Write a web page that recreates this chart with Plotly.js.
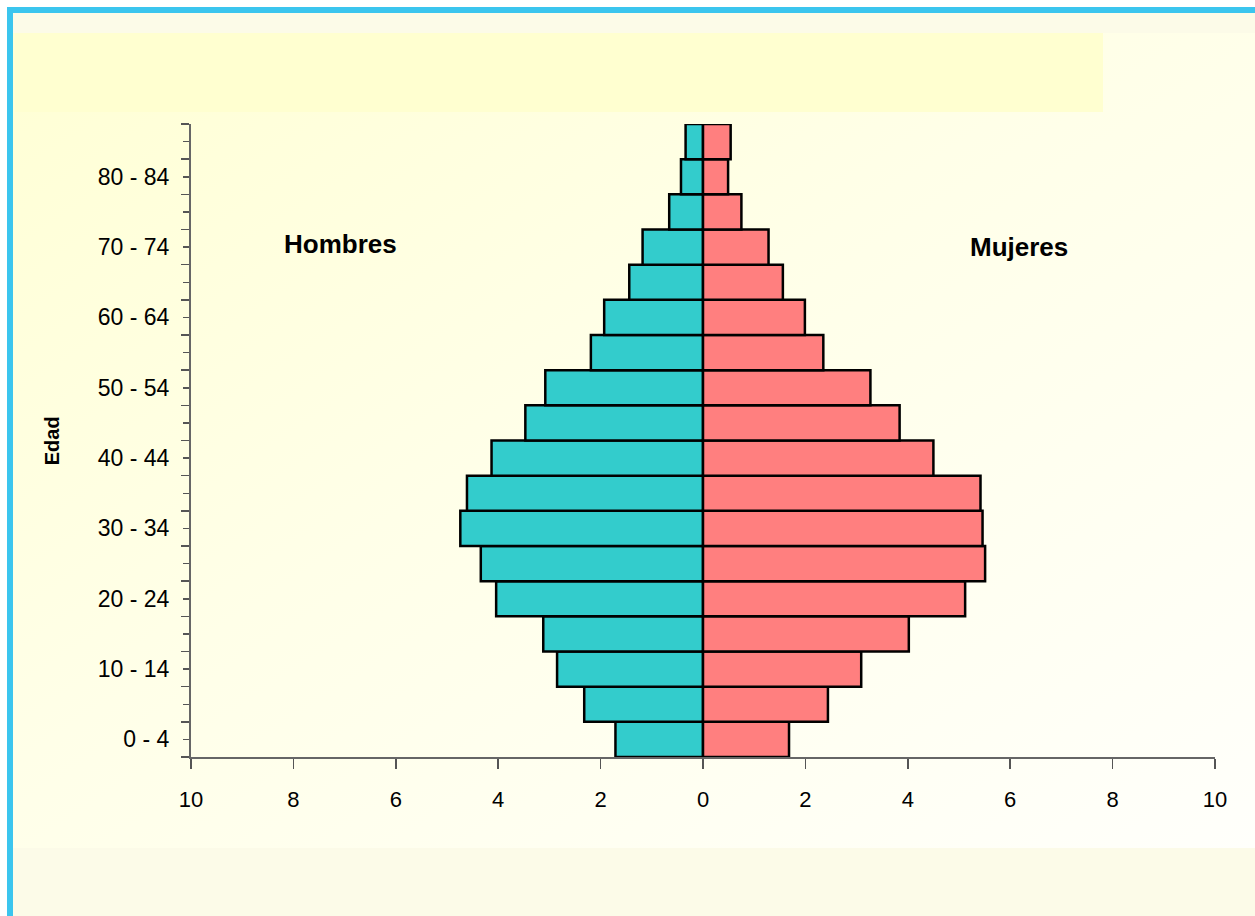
<!DOCTYPE html>
<html>
<head>
<meta charset="utf-8">
<script src="https://cdn.plot.ly/plotly-3.0.1.min.js"></script>
<style>
  html, body { margin: 0; padding: 0; background: #ffffff; }
  #wrap { position: relative; width: 1255px; height: 916px; overflow: hidden; }
  #frame { position: absolute; left: 7px; top: 7px; width: 1248px; height: 909px;
           border-top: 6px solid #3BC5EE; border-left: 6px solid #3BC5EE;
           box-sizing: border-box; background: #FCFBE8; }
  #grad { position: absolute; left: 13px; top: 33px; width: 1242px; height: 815px;
          background: linear-gradient(to bottom right, #FFFFD4 0%, #FFFFE8 45%, #FFFFFB 100%); }
  #band { position: absolute; left: 15px; top: 33px; width: 1088px; height: 79px; background: #FFFFD0; }
  #chart { position: absolute; left: 0; top: 0; width: 1255px; height: 916px; }
</style>
</head>
<body>
<div id="wrap">
  <div id="frame"></div>
  <div id="grad"></div>
  <div id="band"></div>
  <div id="chart"></div>
</div>
<script>
const categories = ["0 - 4","5 - 9","10 - 14","15 - 19","20 - 24","25 - 29","30 - 34","35 - 39",
                    "40 - 44","45 - 49","50 - 54","55 - 59","60 - 64","65 - 69","70 - 74","75 - 79",
                    "80 - 84","85+"];
const hombres = [1.71, 2.32, 2.85, 3.12, 4.04, 4.34, 4.74, 4.61, 4.13, 3.47, 3.08, 2.19, 1.93, 1.44, 1.18, 0.66, 0.43, 0.34];
const mujeres = [1.68, 2.44, 3.09, 4.02, 5.12, 5.51, 5.46, 5.42, 4.50, 3.84, 3.27, 2.35, 1.99, 1.56, 1.28, 0.75, 0.49, 0.54];
const xTicks = [-10, -8, -6, -4, -2, 0, 2, 4, 6, 8, 10];
const xTickText = ["10","8","6","4","2","0","2","4","6","8","10"];

const idx = categories.map((c, i) => i);
const yTickText = idx.map(i => (i % 2 === 0 ? categories[i] : ""));

const font = "Liberation Sans, Arial, sans-serif";

const traces = [
  { type: "bar", orientation: "h", y: idx, x: hombres.map(v => -v), name: "Hombres",
    width: 1, marker: { color: "#33CCCC", line: { color: "#000000", width: 2.5 } }, hoverinfo: "skip" },
  { type: "bar", orientation: "h", y: idx, x: mujeres, name: "Mujeres",
    width: 1, marker: { color: "#FF7F7F", line: { color: "#000000", width: 2.5 } }, hoverinfo: "skip" }
];

const layout = {
  width: 1255, height: 916,
  margin: { l: 191, r: 40, t: 124, b: 159, pad: 0 },
  paper_bgcolor: "rgba(0,0,0,0)",
  plot_bgcolor: "rgba(0,0,0,0)",
  barmode: "relative",
  bargap: 0,
  showlegend: false,
  font: { family: font, size: 22, color: "#000000" },
  xaxis: {
    range: [-10, 10], tickmode: "array", tickvals: xTicks, ticktext: xTickText,
    ticks: "outside", ticklen: 10, tickwidth: 1.5, tickcolor: "#555555",
    showline: true, linecolor: "#666666", linewidth: 2, showgrid: false, zeroline: false,
    ticklabelstandoff: 12, tickfont: { family: font, size: 22, color: "#000000" }, fixedrange: true
  },
  yaxis: {
    range: [-0.5, 17.5], tickmode: "array", tickvals: idx, ticktext: yTickText,
    ticks: "outside", ticklen: 6, tickwidth: 1.5, tickcolor: "#555555",
    showline: true, linecolor: "#666666", linewidth: 2, showgrid: false, zeroline: false,
    ticklabelstandoff: 9, tickfont: { family: font, size: 23, color: "#000000" },
    minor: { tickmode: "linear", tick0: -0.5, dtick: 1, ticks: "outside", ticklen: 8, tickwidth: 1.5, tickcolor: "#555555", showgrid: false },
    fixedrange: true
  },
  annotations: [
    { text: "<b>Hombres</b>", xref: "paper", yref: "paper", x: 0.146, y: 0.81, xanchor: "center", yanchor: "middle",
      showarrow: false, font: { family: font, size: 26, color: "#000000" } },
    { text: "<b>Mujeres</b>", xref: "paper", yref: "paper", x: 0.809, y: 0.806, xanchor: "center", yanchor: "middle",
      showarrow: false, font: { family: font, size: 26, color: "#000000" } },
    { text: "<b>Edad</b>", xref: "paper", yref: "paper", x: -0.136, y: 0.5, xanchor: "center", yanchor: "middle",
      textangle: -90, showarrow: false, font: { family: font, size: 20, color: "#000000" } }
  ]
};

Plotly.newPlot("chart", traces, layout, { displayModeBar: false, staticPlot: true });
</script>
</body>
</html>
